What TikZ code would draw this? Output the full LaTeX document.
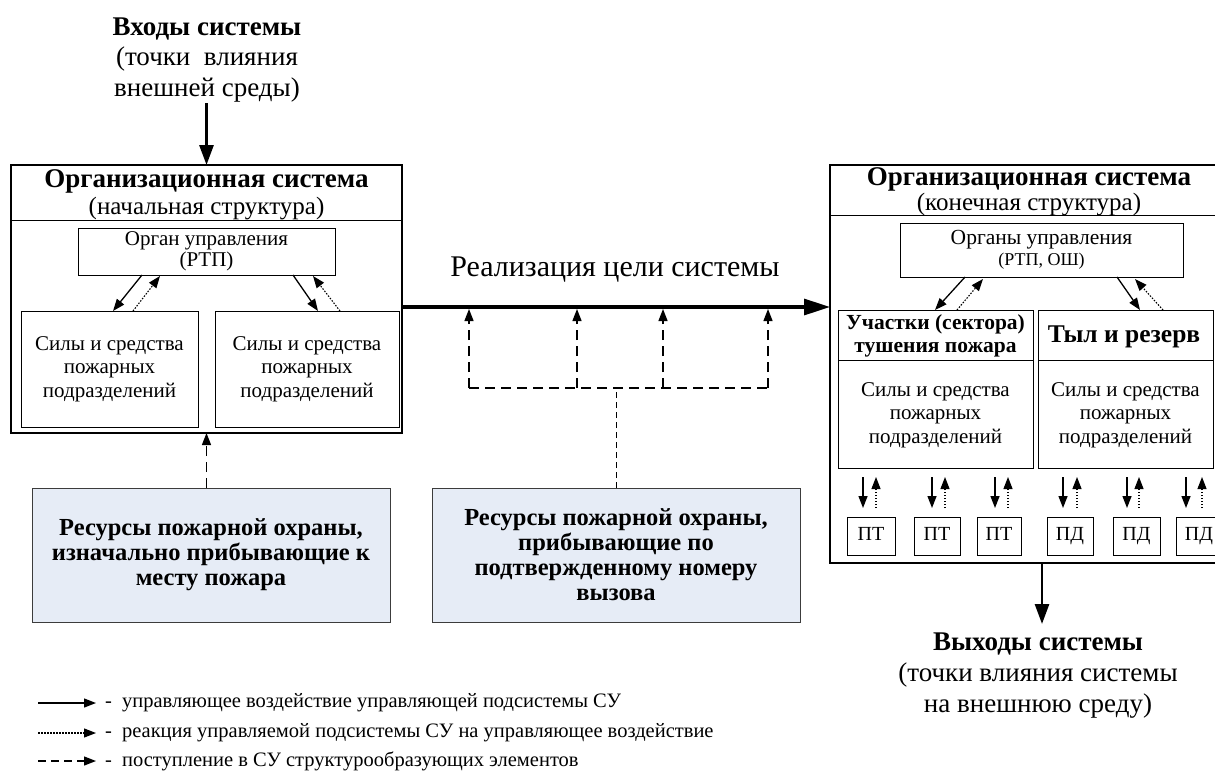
\documentclass[tikz,border=0pt]{standalone}
\usepackage{fontspec}
\setmainfont{Liberation Serif}
\usetikzlibrary{arrows.meta,calc}
\definecolor{resblue}{RGB}{230,236,246}
\definecolor{resedge}{RGB}{60,60,60}
\begin{document}
\begin{tikzpicture}[x=1pt,y=-1pt,
  every node/.style={inner sep=0pt,outer sep=0pt},
  bigbox/.style={draw,line width=2.8pt,anchor=north west},
  smallbox/.style={draw,line width=1pt,anchor=north west,align=center},
  unitbox/.style={draw,line width=1pt,anchor=north west,minimum height=38pt,font=\fontsize{20}{23}\selectfont,text height=13.5pt,text depth=4.5pt},
  resbox/.style={draw=resedge,line width=1pt,fill=resblue,anchor=north west,align=center,font=\bfseries\fontsize{24.5}{25}\selectfont},
  body/.style={font=\fontsize{21}{23.5}\selectfont,align=center},
  titletext/.style={font=\fontsize{27}{30}\selectfont\bfseries},
  subtext/.style={font=\fontsize{25}{28}\selectfont},
  legtext/.style={font=\fontsize{20.5}{24}\selectfont,anchor=west},
  ctrl/.style={line width=1.3pt,-{Triangle[length=12pt,width=9pt]}},
  react/.style={line width=1.1pt,dash pattern=on 1.5pt off 1.5pt,-{Triangle[length=12pt,width=9pt]}},
  supply/.style={line width=1.3pt,dash pattern=on 10pt off 6pt,-{Triangle[length=12pt,width=9pt]}},
  supplyline/.style={line width=1.3pt,dash pattern=on 10pt off 6pt},
  feed/.style={line width=0.8pt,dash pattern=on 6pt off 4pt},
  heavy/.style={line width=2.8pt,-{Triangle[length=20pt,width=14pt]}},
  mainflow/.style={line width=3.2pt,-{Triangle[length=26pt,width=16pt]}},
  seprule/.style={line width=0.9pt}
]
\clip (0,0) rectangle (1215,771);
\fill[white] (0,0) rectangle (1215,771);

% ---------- inputs ----------
\node[align=center,font=\fontsize{27}{30.5}\selectfont] (intext) at (207,60)
  {{\bfseries Входы системы}\\(точки\ \ влияния\\внешней среды)};
\coordinate (instart) at (206.5,103);

% ---------- left organisation system ----------
\node[bigbox,minimum width=391pt,minimum height=268pt] (L) at (11,165) {};
\node[titletext] (Ltitle) at (206.5,181) {Организационная система};
\node[subtext] (Lsub) at (206.5,209) {(начальная структура)};
\draw[seprule] (11,220) -- (402,220);
\node[smallbox,minimum width=257pt,minimum height=47pt,font=\fontsize{21}{21}\selectfont] (LO) at (78,228) {Орган управления\\(РТП)};
\node[smallbox,minimum width=177pt,minimum height=116pt] (LS1) at (21,311) {};
\node[body] (LS1t) at (LS1.center) {Силы и средства\\пожарных\\подразделений};
\node[smallbox,minimum width=184pt,minimum height=116pt] (LS2) at (215,311) {};
\node[body] (LS2t) at (LS2.center) {Силы и средства\\пожарных\\подразделений};

\draw[heavy] (instart) -- (L.north);

\draw[ctrl]  ($(LO.south west)+(64,0)$) -- ($(LS1.north west)+(92,0)$);
\draw[react] ($(LS1.north west)+(112,0)$) -- ($(LO.south west)+(82,1)$);
\draw[ctrl]  ($(LO.south west)+(215,0)$) -- ($(LS2.north west)+(103,0)$);
\draw[react] ($(LS2.north west)+(125,0)$) -- ($(LO.south west)+(235,1)$);

% ---------- right organisation system ----------
\node[bigbox,minimum width=398pt,minimum height=398pt] (R) at (830,165) {};
\node[titletext] (Rtitle) at (1029,179) {Организационная система};
\node[subtext] (Rsub) at (1029,205) {(конечная структура)};
\draw[seprule] (830,215) -- (1228,215);
\node[smallbox,minimum width=283pt,minimum height=54pt,font=\fontsize{21.5}{21}\selectfont] (RO) at (900,223) {Органы управления\\{\fontsize{18}{19}\selectfont (РТП, ОШ)}};

\node[smallbox,minimum width=195pt,minimum height=158pt] (S1) at (838,310) {};
\draw[line width=1pt] (838,360) -- (1033,360);
\node[align=center,font=\fontsize{21.5}{23}\selectfont\bfseries] (S1h) at (935.5,336) {Участки (сектора)\\тушения пожара};
\node[body] (S1t) at (935.5,415) {Силы и средства\\пожарных\\подразделений};

\node[smallbox,minimum width=175pt,minimum height=158pt] (S2) at (1038,310) {};
\draw[line width=1pt] (1038,360) -- (1213,360);
\node[font=\fontsize{25.5}{28}\selectfont\bfseries] (S2h) at (1124,337) {Тыл и резерв};
\node[body] (S2t) at (1125.5,415) {Силы и средства\\пожарных\\подразделений};

\draw[ctrl]  ($(RO.south west)+(65,0)$) -- ($(S1.north west)+(97,0)$);
\draw[react] ($(S1.north west)+(119,0)$) -- ($(RO.south west)+(83,2)$);
\draw[ctrl]  ($(RO.south west)+(217,0)$) -- ($(S2.north west)+(102,0)$);
\draw[react] ($(S2.north west)+(125,0)$) -- ($(RO.south west)+(235,2)$);

% small units
\node[unitbox,minimum width=48pt] (p1) at (847,517) {ПТ};
\node[unitbox,minimum width=46pt] (p2) at (914,517) {ПТ};
\node[unitbox,minimum width=44pt] (p3) at (977,517) {ПТ};
\node[unitbox,minimum width=46pt] (p4) at (1047,517) {ПД};
\node[unitbox,minimum width=47pt] (p5) at (1113,517) {ПД};
\node[unitbox,minimum width=46pt] (p6) at (1176,517) {ПД};

\foreach \n/\xs/\xd in {p1/863/876,p2/932/945,p3/995/1008,p4/1063/1077,p5/1127/1139,p6/1186/1202}{
  \draw[ctrl]  (\xs,477) -- (\xs,508);
  \draw[react] (\xd,508) -- (\xd,477);
}

% outputs
\coordinate (outstart) at (1042,563);
\coordinate (outend) at (1042,624);
\draw[heavy] (outstart) -- (outend);
\node[align=center,font=\fontsize{27}{31}\selectfont] (outtext) at (1038,676)
  {{\bfseries Выходы системы}\\(точки влияния системы\\на внешнюю среду)};

% ---------- goal arrow ----------
\draw[mainflow] ($(L.north east)+(0,142)$) -- ($(R.north west)+(0,142)$);
\node[font=\fontsize{30}{32}\selectfont] (goal) at (615,270) {Реализация цели системы};

% ---------- resources ----------
\node[resbox,minimum width=358pt,minimum height=134pt] (B1) at (32,488) {Ресурсы пожарной охраны,\\изначально прибывающие к\\месту пожара};
\node[resbox,minimum width=368pt,minimum height=134pt] (B2) at (432,488) {Ресурсы пожарной охраны,\\прибывающие по\\подтвержденному номеру\\вызова};

\draw[supply] (L.south |- B1.north) -- (L.south);

\coordinate (j1) at (469,388);
\coordinate (j2) at (577,388);
\coordinate (j3) at (663,388);
\coordinate (j4) at (768,388);
\draw[supplyline] (j1) -- (j4);
\foreach \j in {j1,j2,j3,j4}{
  \draw[supply] (\j) -- ($(\j)+(0,-79)$);
}
\draw[feed] (B2.north) -- (B2.north |- j1);

% ---------- legend ----------
\coordinate (la1) at (38,703); \coordinate (lb1) at (96,703);
\coordinate (la2) at (38,733); \coordinate (lb2) at (96,733);
\coordinate (la3) at (38,761); \coordinate (lb3) at (96,761);
\draw[ctrl] (la1) -- (lb1);
\draw[react] (la2) -- (lb2);
\draw[line width=1.3pt,dash pattern=on 8pt off 5pt,-{Triangle[length=12pt,width=9pt]}] (la3) -- (lb3);
\node[legtext] (lt1) at (105,703) {-\ \ управляющее воздействие управляющей подсистемы СУ};
\node[legtext] (lt2) at (105,733) {-\ \ реакция управляемой подсистемы СУ на управляющее воздействие};
\node[legtext] (lt3) at (105,761) {-\ \ поступление в СУ структурообразующих элементов};
\end{tikzpicture}
\end{document}
